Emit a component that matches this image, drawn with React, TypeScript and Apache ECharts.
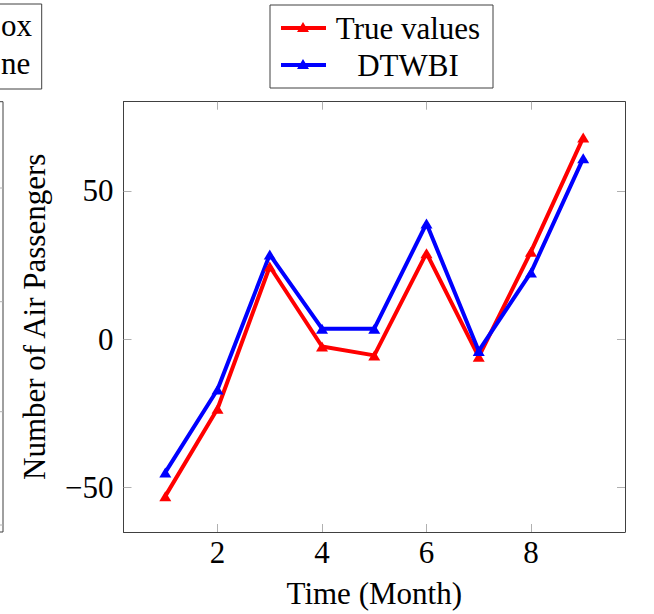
import React, { useEffect, useRef } from "react";
import * as echarts from "echarts";

const months = [1, 2, 3, 4, 5, 6, 7, 8, 9];
const trueValues = [-53, -23.5, 24.5, -2.5, -5.5, 29, -6, 29.5, 68];
const dtwbiValues = [-45, -17, 28.5, 3.5, 3.5, 39, -4, 22.5, 61];
const xTicks = [2, 4, 6, 8];
const yTicks = [-50, 0, 50];
const seriesNames = ["True values", "DTWBI"];
const seriesColors = ["#ff0000", "#0000ff"];

const FONT = "Liberation Serif, Times New Roman, serif";
const FS = 31;
const FRAME = "#404040";
const TICK = "#b0b0b0";

export default function App() {
  const ref = useRef<HTMLDivElement>(null);
  useEffect(() => {
    if (!ref.current) return;
    const chart = echarts.init(ref.current, null, { renderer: "svg" });
    const xBase = {
      type: "value" as const,
      min: 0.2,
      max: 9.8,
      splitLine: { show: false },
      axisLine: { show: true, onZero: false, lineStyle: { color: FRAME, width: 1 } },
      axisTick: { show: true, inside: true, length: 8, customValues: xTicks, lineStyle: { color: TICK, width: 1 } },
    };
    const yBase = {
      type: "value" as const,
      min: -65.1,
      max: 80.1,
      splitLine: { show: false },
      axisLine: { show: true, onZero: false, lineStyle: { color: FRAME, width: 1 } },
      axisTick: { show: true, inside: true, length: 8, customValues: yTicks, lineStyle: { color: TICK, width: 1 } },
    };
    const legendGraphic: any[] = [
      { type: "rect", shape: { x: 270, y: 5, width: 223, height: 83 }, style: { fill: "#fff", stroke: FRAME, lineWidth: 1 } },
    ];
    seriesNames.forEach((name, i) => {
      const y = i === 0 ? 28 : 65;
      legendGraphic.push(
        { type: "line", shape: { x1: 281, y1: y, x2: 326, y2: y }, style: { stroke: seriesColors[i], lineWidth: 4 } },
        { type: "polygon", shape: { points: [[303, y - 6], [297, y + 4], [309, y + 4]] }, style: { fill: seriesColors[i] } },
        { type: "text", style: { x: 408, y, text: name, align: "center", verticalAlign: "middle", font: `${FS}px ${FONT}`, fill: "#000" } }
      );
    });
    const leftPanel: any[] = [
      { type: "rect", shape: { x: -20, y: 4, width: 61.7, height: 85 }, style: { fill: "#fff", stroke: FRAME, lineWidth: 1 } },
      { type: "text", style: { x: 1, y: 25, text: "ox", align: "left", verticalAlign: "middle", font: `${FS}px ${FONT}`, fill: "#000" } },
      { type: "text", style: { x: 1, y: 63, text: "ne", align: "left", verticalAlign: "middle", font: `${FS}px ${FONT}`, fill: "#000" } },
      { type: "rect", shape: { x: -20, y: 101.7, width: 23, height: 430.3 }, style: { fill: "none", stroke: FRAME, lineWidth: 1 } },
    ];
    [188, 301.7, 411.7, 525].forEach((ty) => {
      leftPanel.push({ type: "line", shape: { x1: -5, y1: ty, x2: 3, y2: ty }, style: { stroke: TICK, lineWidth: 1 } });
    });
    chart.setOption({
      animation: false,
      backgroundColor: "#fff",
      grid: { left: 123.5, right: 29, top: 101.7, bottom: 82, containLabel: false },
      xAxis: [
        {
          ...xBase,
          position: "bottom",
          name: "Time (Month)",
          nameLocation: "middle",
          nameGap: 46,
          nameTextStyle: { fontFamily: FONT, fontSize: FS, color: "#000" },
          axisLabel: { show: true, customValues: xTicks, margin: 5, fontFamily: FONT, fontSize: FS, color: "#000" },
        },
        { ...xBase, position: "top", axisLabel: { show: false } },
      ],
      yAxis: [
        {
          ...yBase,
          position: "left",
          name: "Number of Air Passengers",
          nameLocation: "middle",
          nameGap: 74,
          nameTextStyle: { fontFamily: FONT, fontSize: FS, color: "#000" },
          axisLabel: {
            show: true,
            customValues: yTicks,
            margin: 10,
            fontFamily: FONT,
            fontSize: FS,
            color: "#000",
            formatter: (v: number) => (v < 0 ? "\u2212" + Math.abs(v) : String(v)),
          },
        },
        { ...yBase, position: "right", axisLabel: { show: false } },
      ],
      series: [trueValues, dtwbiValues].map((vals, i) => ({
        name: seriesNames[i],
        type: "line",
        data: months.map((m, j) => [m, vals[j]]),
        color: seriesColors[i],
        lineStyle: { width: 4, color: seriesColors[i] },
        symbol: "triangle",
        symbolSize: [12, 10],
        itemStyle: { color: seriesColors[i] },
        showSymbol: true,
      })),
      graphic: [...leftPanel, ...legendGraphic],
    });
    return () => chart.dispose();
  }, []);
  return <div ref={ref} style={{ position: "fixed", left: 0, top: 0, width: 654, height: 614 }} />;
}
